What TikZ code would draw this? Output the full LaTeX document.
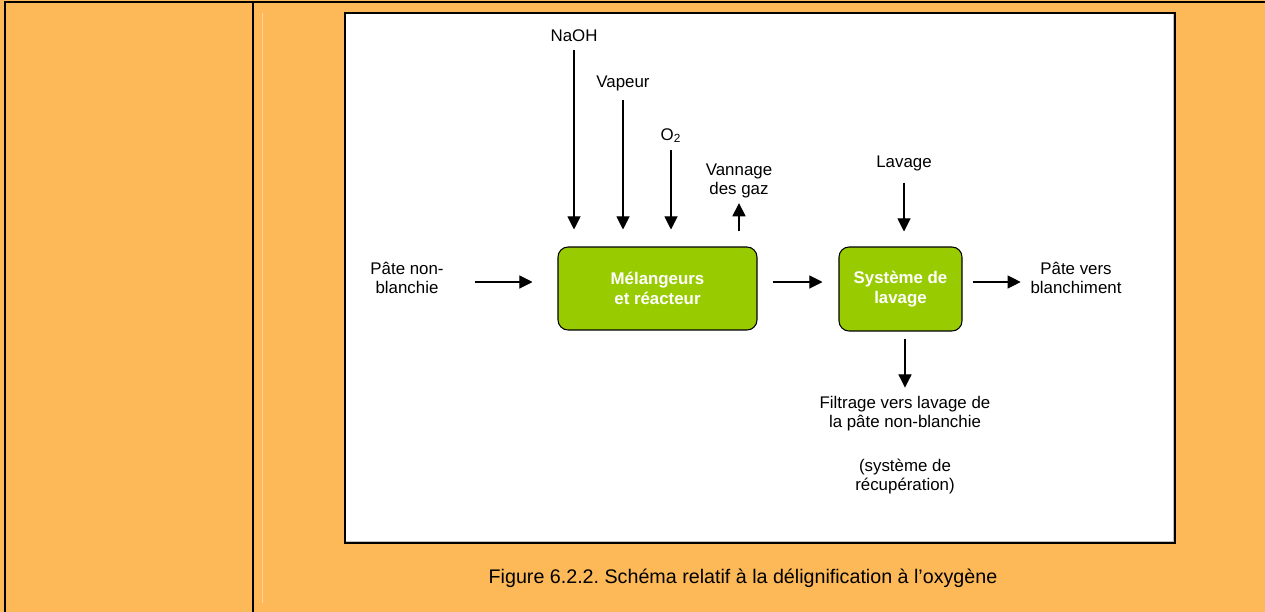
\documentclass[tikz,border=0pt]{standalone}
\usepackage{fontspec}
\setmainfont{Liberation Sans}
\usetikzlibrary{arrows.meta, positioning}
\definecolor{cellorange}{RGB}{253,185,88}
\definecolor{unitgreen}{RGB}{153,204,0}
\frenchspacing

\begin{document}
\begin{tikzpicture}[x=0.02cm, y=-0.02cm,
  unit/.style={draw=black, line width=0.6pt, fill=unitgreen, rounded corners=0.2cm, text=white, font=\fontsize{9.6}{11}\selectfont\bfseries, align=center},
  lbl/.style={font=\fontsize{9.6}{10.8}\selectfont, align=center, inner sep=1pt},
  flow/.style={-{Triangle[length=7.5pt, width=7.5pt]}, line width=0.6pt}]

  \useasboundingbox (0,0) rectangle (1265,612);
  % Table cell and rules
  \fill[cellorange] (0,0) rectangle (1265,612);
  \draw[line width=1.1pt] (5,612) -- (5,2) -- (1265,2);
  \draw[line width=1.1pt] (253,2) -- (253,612);
  \draw[cellorange!60!white, line width=0.4pt] (262,13) -- (262,603);

  % Figure frame
  \draw[gray!50, line width=0.6pt] (1174,15) -- (1174,542) -- (347,542);
  \draw[line width=0.6pt] (345,13) rectangle (1175,543);
  \fill[white] (345.5,13.5) rectangle (1173,541);
  \coordinate (row) at (0,282);

  % Process units
  \node[unit, minimum width=3.98cm, minimum height=1.66cm] (mix) at (657.5,288.5) {Mélangeurs\\et réacteur};
  \node[unit, minimum width=2.46cm, minimum height=1.68cm] (wash) at (900.5,289) {Système de\\lavage};

  % Inputs and outputs
  \node[lbl, anchor=base] (naoh) at (574,41) {NaOH};
  \node[lbl, anchor=base] (vapeur) at (623,87) {Vapeur};
  \node[lbl, anchor=base] (otwo) at (671,140) {O\textsubscript{2}};
  \node[lbl] (vannage) at (739,181) {Vannage\\des gaz};
  \node[lbl, anchor=base] (lavage) at (904,167) {Lavage};
  \node[lbl] (pulpin) at (407,278) {Pâte non-\\blanchie};
  \node[lbl] (pulpout) at (1076,278) {Pâte vers\\blanchiment};
  \node[lbl] (filtrat) at (905,414) {Filtrage vers lavage de\\la pâte non-blanchie};
  \node[lbl] (recup) at (905,477) {(système de\\récupération)};

  % Caption
  \node[font=\fontsize{11.2}{13}\selectfont, anchor=base] (caption) at (743,583) {Figure 6.2.2. Schéma relatif à la délignification à l’oxygène};

  % Flows into the reactor
  \draw[flow, shorten <=0.14cm, shorten >=0.34cm] (naoh.south) -- (naoh.south |- mix.north);
  \draw[flow, shorten <=0.14cm, shorten >=0.34cm] (vapeur.south) -- (vapeur.south |- mix.north);
  \draw[flow, shorten <=0.1cm, shorten >=0.34cm] (otwo.south) -- (otwo.south |- mix.north);
  \draw[flow, shorten <=0.3cm, shorten >=0.06cm] (vannage.south |- mix.north) -- (vannage.south);
  \draw[flow, shorten <=0.58cm, shorten >=0.5cm] (pulpin.east |- row) -- (mix.west |- row);

  % Washing
  \draw[flow, shorten <=0.3cm, shorten >=0.32cm] (mix.east |- row) -- (wash.west |- row);
  \draw[flow, shorten <=0.2cm, shorten >=0.3cm] (lavage.south) -- (lavage.south |- wash.north);
  \draw[flow, shorten <=0.2cm, shorten >=0.155cm] (wash.east |- row) -- (pulpout.west |- row);
  \draw[flow, shorten <=0.14cm, shorten >=0.14cm] (filtrat.north |- wash.south) -- (filtrat.north);
\end{tikzpicture}
\end{document}
